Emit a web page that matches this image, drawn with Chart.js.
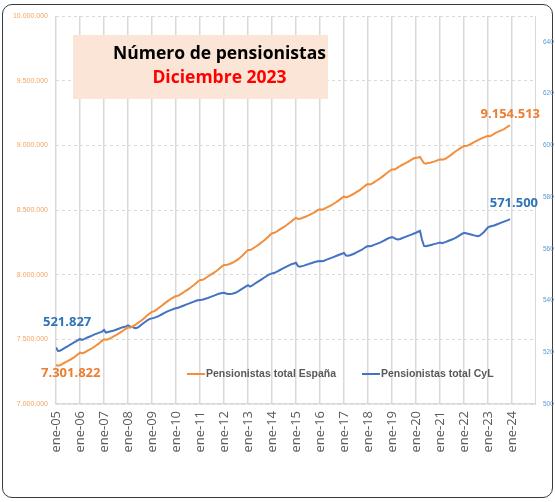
<!DOCTYPE html>
<html>
<head>
<meta charset="utf-8">
<script src="https://cdn.jsdelivr.net/npm/chart.js@4/dist/chart.umd.min.js"></script>
<style>
  body { margin: 0; background: #fff; }
  #marco { position: absolute; left: 2px; top: 4px; width: 549px; height: 492px;
           border: 1.5px solid #3a3a3a; border-radius: 10px; }
  #myChart { position: absolute; left: 0; top: 0; }
</style>
</head>
<body>
<div id="marco"></div>
<canvas id="myChart" width="555" height="502"></canvas>
<script>
// etiquetas del eje x (un tick por cada enero)
const etiquetasX = ['ene-05','ene-06','ene-07','ene-08','ene-09','ene-10','ene-11','ene-12','ene-13','ene-14',
                    'ene-15','ene-16','ene-17','ene-18','ene-19','ene-20','ene-21','ene-22','ene-23','ene-24'];

// pensionistas total España, en miles, mensual ene-05 .. dic-23
const espana = [
  7301.822, 7296, 7300, 7309, 7317, 7325, 7333, 7342, 7351, 7361, 7373, 7385,
  7397, 7392, 7396, 7405, 7414, 7422, 7431, 7441, 7452, 7463, 7475, 7488,
  7500, 7497, 7500, 7508, 7516, 7524, 7532, 7542, 7552, 7562, 7572, 7583,
  7593, 7590, 7596, 7606, 7616, 7627, 7638, 7650, 7662, 7676, 7690, 7702,
  7714, 7716, 7726, 7738, 7750, 7762, 7774, 7786, 7797, 7808, 7818, 7827,
  7835, 7836, 7846, 7856, 7866, 7876, 7886, 7897, 7908, 7920, 7934, 7947,
  7959, 7958, 7966, 7976, 7986, 7996, 8006, 8016, 8026, 8038, 8052, 8064,
  8075, 8074, 8078, 8084, 8090, 8098, 8108, 8118, 8130, 8144, 8160, 8176,
  8191, 8190, 8198, 8208, 8218, 8228, 8240, 8252, 8264, 8278, 8292, 8306,
  8320, 8322, 8330, 8340, 8350, 8360, 8370, 8380, 8392, 8404, 8416, 8428,
  8440, 8430, 8432, 8438, 8444, 8450, 8456, 8464, 8472, 8480, 8490, 8500,
  8505, 8502, 8508, 8516, 8524, 8532, 8540, 8550, 8560, 8570, 8582, 8594,
  8605, 8598, 8602, 8610, 8618, 8626, 8636, 8646, 8656, 8668, 8680, 8692,
  8701, 8698, 8704, 8714, 8724, 8734, 8744, 8756, 8768, 8780, 8792, 8804,
  8815, 8812, 8820, 8830, 8840, 8848, 8856, 8864, 8872, 8882, 8892, 8900,
  8904, 8906, 8910, 8885, 8862, 8858, 8864, 8866, 8870, 8874, 8880, 8886,
  8892, 8888, 8892, 8900, 8910, 8920, 8932, 8944, 8956, 8966, 8976, 8986,
  8995, 8994, 9000, 9008, 9016, 9024, 9032, 9040, 9048, 9056, 9062, 9068,
  9072, 9070, 9078, 9088, 9098, 9104, 9112, 9118, 9126, 9136, 9146, 9154.513
];

// pensionistas total Castilla y León, en miles
const cyl = [
  521.827, 520.5, 520.6, 521.0, 521.5, 522.0, 522.4, 522.9, 523.3, 523.8, 524.2, 524.7,
  525.2, 524.8, 525.1, 525.5, 525.8, 526.1, 526.4, 526.8, 527.1, 527.4, 527.7, 528.0,
  528.6, 527.6, 527.8, 528.0, 528.2, 528.4, 528.7, 529.0, 529.3, 529.6, 529.8, 530.0,
  530.4, 530.0, 529.8, 529.5, 529.3, 529.6, 530.2, 530.8, 531.4, 532.0, 532.5, 532.9,
  533.1, 533.3, 533.6, 533.9, 534.3, 534.7, 535.1, 535.5, 535.9, 536.2, 536.5, 536.8,
  537.0, 537.2, 537.5, 537.8, 538.1, 538.4, 538.7, 539.0, 539.3, 539.6, 539.9, 540.1,
  540.2, 540.3, 540.5, 540.8, 541.0, 541.3, 541.6, 541.9, 542.2, 542.5, 542.7, 542.9,
  543.0, 542.7, 542.5, 542.5, 542.6, 542.8, 543.1, 543.5, 544.0, 544.5, 545.0, 545.5,
  545.9, 545.4, 545.8, 546.3, 546.8, 547.3, 547.8, 548.3, 548.8, 549.3, 549.8, 550.2,
  550.5, 550.6, 551.0, 551.4, 551.8, 552.2, 552.6, 553.0, 553.4, 553.8, 554.1, 554.3,
  554.6, 553.3, 553.1, 553.3, 553.5, 553.8, 554.0, 554.3, 554.5, 554.8, 555.0, 555.2,
  555.3, 555.2, 555.4, 555.7, 556.0, 556.3, 556.6, 556.9, 557.2, 557.5, 557.8, 558.1,
  558.4, 557.4, 557.3, 557.5, 557.8, 558.1, 558.5, 558.9, 559.3, 559.7, 560.2, 560.7,
  561.1, 561.0, 561.2, 561.5, 561.8, 562.1, 562.4, 562.8, 563.2, 563.6, 564.0, 564.3,
  564.5, 564.2, 563.8, 563.6, 563.8, 564.1, 564.4, 564.7, 565.0, 565.3, 565.6, 565.9,
  566.2, 566.6, 566.9, 563.5, 561.1, 561.0, 561.2, 561.4, 561.6, 561.8, 562.0, 562.2,
  562.4, 562.2, 562.4, 562.7, 563.0, 563.3, 563.6, 563.9, 564.3, 564.8, 565.3, 565.8,
  566.2, 566.0, 565.8, 565.6, 565.4, 565.2, 565.0, 564.9, 565.2, 565.8, 566.5, 567.4,
  568.3, 568.6, 568.8, 569.0, 569.3, 569.6, 569.9, 570.2, 570.5, 570.8, 571.1, 571.5
];

const nombres = ['Pensionistas total España', 'Pensionistas total CyL'];
const titulo = ['Número de pensionistas', 'Diciembre 2023'];

const naranja = '#F28E3C';
const azul = '#4472C4';

// 7301.822 -> "7.301.822"
function miles(v) {
  return String(Math.round(v * 1000)).replace(/\B(?=(\d{3})+(?!\d))/g, '.');
}

// titulo, etiquetas de datos y leyenda dibujados a mano
const extras = {
  id: 'extras',
  beforeDatasetsDraw(chart) {
    const c = chart.ctx;
    c.save();
    c.fillStyle = '#FBE5D6';
    c.fillRect(73, 35, 255, 64);
    c.textAlign = 'center';
    c.textBaseline = 'alphabetic';
    c.font = 'bold 20px "Open Sans"';
    const w = c.measureText(titulo[0]).width;
    const tam = 20 * 213 / w;
    c.font = 'bold ' + tam + 'px "Open Sans"';
    c.fillStyle = '#000';
    c.fillText(titulo[0], 219.5, 59);
    c.fillStyle = '#FF0000';
    c.fillText(titulo[1], 219.5, 83);
    c.restore();
  },
  afterDraw(chart) {
    const c = chart.ctx;
    const x = chart.scales.x, y = chart.scales.y, y1 = chart.scales.y1;
    const ult = espana.length - 1;
    c.save();
    c.font = 'bold 13px "Open Sans"';
    c.textBaseline = 'alphabetic';
    // inicio
    c.textAlign = 'left';
    c.fillStyle = '#2E75B6';
    c.fillText(miles(cyl[0]), x.getPixelForValue(0) - 13, y1.getPixelForValue(cyl[0]) - 22);
    c.fillStyle = '#ED7D31';
    c.fillText(miles(espana[0]), x.getPixelForValue(0) - 15, y.getPixelForValue(espana[0]) + 12);
    // final
    c.textAlign = 'right';
    c.fillText(miles(espana[ult]), x.getPixelForValue(ult) + 30, y.getPixelForValue(espana[ult]) - 7);
    c.fillStyle = '#2E75B6';
    c.fillText(miles(cyl[ult]), x.getPixelForValue(ult) + 28, y1.getPixelForValue(cyl[ult]) - 12);

    // leyenda
    c.font = 'bold 10.5px "Liberation Sans"';
    c.textAlign = 'left';
    c.textBaseline = 'middle';
    const pos = [187, 362];
    chart.data.datasets.forEach((ds, i) => {
      c.strokeStyle = ds.borderColor;
      c.lineWidth = 2;
      c.beginPath();
      c.moveTo(pos[i], 374);
      c.lineTo(pos[i] + 18, 374);
      c.stroke();
      c.fillStyle = '#595959';
      c.fillText(ds.label, pos[i] + 19, 374.5);
    });
    c.restore();
  }
};

const ctx = document.getElementById('myChart');
new Chart(ctx, {
  type: 'line',
  data: {
    datasets: [
      {
        label: nombres[0],
        data: espana.map((v, i) => ({ x: i, y: v })),
        borderColor: naranja,
        borderWidth: 2,
        pointRadius: 0,
        yAxisID: 'y'
      },
      {
        label: nombres[1],
        data: cyl.map((v, i) => ({ x: i, y: v })),
        borderColor: azul,
        borderWidth: 2,
        pointRadius: 0,
        yAxisID: 'y1'
      }
    ]
  },
  options: {
    responsive: false,
    animation: false,
    devicePixelRatio: 1,
    layout: { padding: { top: 16, left: 0, right: 0, bottom: 0 } },
    plugins: { legend: { display: false }, tooltip: { enabled: false } },
    scales: {
      x: {
        type: 'linear',
        min: 0,
        max: 239.5,
        afterFit: s => { s.height = 98; },
        grid: { color: '#D9D9D9', lineWidth: 1.5, drawTicks: false },
        border: { color: '#D9D9D9', width: 1.5 },
        ticks: {
          stepSize: 12,
          includeBounds: false,
          autoSkip: false,
          minRotation: 90,
          maxRotation: 90,
          padding: 7,
          color: '#595959',
          font: { family: '"Open Sans"', size: 13 },
          callback: v => etiquetasX[v / 12]
        }
      },
      y: {
        position: 'left',
        min: 7000,
        max: 10000,
        afterFit: s => { s.width = 56; },
        grid: { color: '#D9D9D9', lineWidth: 1, drawTicks: false },
        border: { display: false, dash: [3, 3] },
        ticks: {
          stepSize: 500,
          padding: 8,
          color: '#F4A460',
          font: { family: '"Liberation Sans"', size: 7 },
          callback: v => miles(v)
        }
      },
      y1: {
        position: 'right',
        min: 500,
        max: 650,
        afterFit: s => { s.width = 20; },
        grid: { display: false, drawTicks: false },
        border: { color: '#D9D9D9', width: 1, dash: [3, 3] },
        ticks: {
          stepSize: 20,
          includeBounds: false,
          padding: 8,
          color: '#5B9BD5',
          font: { family: '"Liberation Sans"', size: 6.5 },
          callback: v => String(v)
        }
      }
    }
  },
  plugins: [extras]
});
</script>
</body>
</html>
